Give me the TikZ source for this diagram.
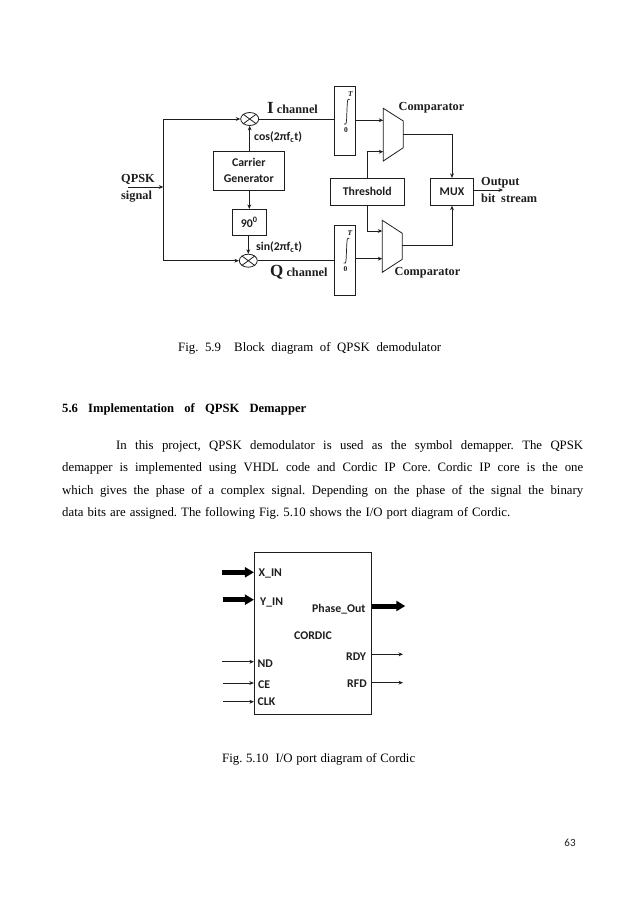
\documentclass[tikz,border=0pt]{standalone}
\usepackage{fontspec}
\setmainfont{Liberation Serif}
\newfontfamily\lblfont{Carlito}
\usetikzlibrary{arrows.meta,shapes.geometric}
\definecolor{ink}{HTML}{1E1E1E}
\frenchspacing
\tikzset{
 wire/.style={draw=ink,line width=0.8pt},
 arrowwire/.style={wire,-{Stealth[length=4.5pt,width=3.8pt]}},
 fatwire/.style={draw=black,line width=5pt,-{Stealth[length=9pt,width=10pt,inset=0pt]}},
 blockbox/.style={draw=ink,line width=0.8pt,minimum width=0pt,minimum height=0pt,inner sep=0pt,align=center,text=ink,font=\lblfont\bfseries\fontsize{11.8}{15}\selectfont},
 mixer/.style={draw=ink,line width=0.8pt,ellipse,minimum width=18pt,minimum height=13pt,inner sep=0pt},
 lbl/.style={inner sep=0pt,text=ink,font=\lblfont\bfseries\fontsize{11.8}{14}\selectfont},
 serifbold/.style={inner sep=0pt,text=ink,align=left,font=\bfseries\fontsize{12.3}{17}\selectfont},
 small/.style={inner sep=0pt,text=ink,font=\bfseries\fontsize{7}{8}\selectfont},
 bodytext/.style={inner sep=0pt,anchor=base west,text=black,font=\fontsize{12.8}{15}\selectfont},
}
\newcommand{\justline}[2]{\hbox to #1pt{#2}}
\begin{document}
\begin{tikzpicture}[x=1pt,y=-1pt]
\useasboundingbox[fill=white] (0,0) rectangle (638,903);
% --- QPSK blocks
\node[mixer] (mixI) at (249.7,119) {};
\node[mixer] (mixQ) at (248.3,260.7) {};
\draw[wire] (mixI.north west)--(mixI.south east) (mixI.north east)--(mixI.south west);
\draw[wire] (mixQ.north west)--(mixQ.south east) (mixQ.north east)--(mixQ.south west);
\node[blockbox,minimum width=71pt,minimum height=39pt] (carrier) at (248.8,170.8) {Carrier\\[1pt]Generator};
\node[blockbox,minimum width=34pt,minimum height=26pt] (shift) at (249.3,222.3) {90\textsuperscript{0}};
\node[blockbox,minimum width=21pt,minimum height=69pt] (intI) at (344.8,120.8) {};
\node[blockbox,minimum width=21pt,minimum height=70.4pt] (intQ) at (344.8,260.5) {};
\node[blockbox,minimum width=74pt,minimum height=27pt] (thresh) at (367.3,191.8) {Threshold};
\node[blockbox,minimum width=43.4pt,minimum height=27pt] (mux) at (452,191.8) {MUX};
% comparators
\coordinate (cA) at (383.3,108.3); \coordinate (cB) at (403.3,121);
\coordinate (cC) at (403.3,147.7); \coordinate (cD) at (383.3,161);
\draw[wire] (cA)--(cB)--(cC)--(cD)--cycle;
\coordinate (dA) at (382.3,220.3); \coordinate (dB) at (402.3,233.3);
\coordinate (dC) at (402.3,259.3); \coordinate (dD) at (382.3,272.3);
\draw[wire] (dA)--(dB)--(dC)--(dD)--cycle;
\coordinate (cmpIa) at (383.3,120.3); \coordinate (cmpIb) at (383.3,151.7);
\coordinate (cmpIo) at (403.3,134.3);
\coordinate (cmpQa) at (382.3,231); \coordinate (cmpQb) at (382.3,258.7);
\coordinate (cmpQo) at (402.3,245.3);
% integrals
\draw[ink,line width=0.7pt] (349.6,99.5) .. controls (347.6,98) and (347.4,101) .. (347.2,105) -- (346.6,119) .. controls (346.4,124) and (345.6,125.5) .. (344,124);
\node[small,font=\bfseries\itshape\fontsize{7.5}{8}\selectfont] (tI) at (350.5,94) {T};
\node[small,font=\bfseries\fontsize{7.5}{8}\selectfont] (zI) at (346,130) {0};
\draw[ink,line width=0.7pt] (349.2,238.5) .. controls (347.2,237) and (347,240) .. (346.8,244) -- (346.2,258) .. controls (346,263) and (345.2,264.5) .. (343.6,263);
\node[small,font=\bfseries\itshape\fontsize{7.5}{8}\selectfont] (tQ) at (350,233) {T};
\node[small,font=\bfseries\fontsize{7.5}{8}\selectfont] (zQ) at (345.6,269) {0};
% input
\coordinate (inS) at (128,187);
\coordinate (split) at (163.3,187);
\coordinate (topL) at (163.3,119);
\coordinate (botL) at (163.3,260.7);
\draw[arrowwire] (inS)--(split);
\draw[wire] (topL)--(botL);
\draw[arrowwire] (topL)--(mixI.west);
\draw[arrowwire] (botL)--(mixQ.west);
\draw[arrowwire] (carrier.north -| mixI)--(mixI.south);
\draw[arrowwire] (carrier.south -| shift)--(shift.north);
\draw[arrowwire] (shift.south -| mixQ)--(mixQ.north);
\draw[wire] (mixI.east)--(mixI.east -| intI.west);
\draw[wire] (mixQ.east)--(mixQ.east -| intQ.west);
\draw[arrowwire] (intI.east |- cmpIa)--(cmpIa);
\draw[arrowwire] (intQ.east |- cmpQb)--(cmpQb);
\coordinate (thUp) at (367.7,178.3);
\coordinate (thDn) at (367.7,205.3);
\draw[arrowwire] (thUp)--(thUp |- cmpIb)--(cmpIb);
\draw[arrowwire] (thDn)--(thDn |- cmpQa)--(cmpQa);
\draw[arrowwire] (cmpIo)-|(mux.north);
\draw[arrowwire] (cmpQo)-|(mux.south);
\coordinate (outEnd) at (503,190);
\draw[arrowwire] (mux.east |- outEnd)--(outEnd);
% labels
\node[serifbold,anchor=west] (qpsk) at (121,188.5) {QPSK\\signal};
\node[lbl,anchor=west] (cos) at (254,137.5) {cos(2πf\textsubscript{c}t)};
\node[lbl,anchor=west] (sin) at (256,247.5) {sin(2πf\textsubscript{c}t)};
\node[serifbold,anchor=base west] (ich) at (267,113) {{\fontsize{17}{17}\selectfont I} channel};
\node[serifbold,anchor=base west] (qch) at (270,276) {{\fontsize{17}{17}\selectfont Q} channel};
\node[serifbold,anchor=base west] (cmp1) at (398.5,110) {Comparator};
\node[serifbold,anchor=base west] (cmp2) at (394.5,275) {Comparator};
\node[serifbold,anchor=west] (out) at (481,189.5) {Output\\\justline{56}{bit stream}};
% captions and body
\node[bodytext] (cap1) at (178,351) {\justline{263}{Fig. 5.9\ \ Block diagram of QPSK demodulator}};
\node[bodytext,font=\bfseries\fontsize{12.6}{15}\selectfont] (sec) at (62,412) {\justline{244}{5.6 Implementation of QPSK Demapper}};
\node[bodytext] (l1) at (62,449) {\justline{521}{\hspace{54pt}In this project, QPSK demodulator is used as the symbol demapper. The QPSK}};
\node[bodytext] (l2) at (62,471) {\justline{521}{demapper is implemented using VHDL code and Cordic IP Core. Cordic IP core is the one}};
\node[bodytext] (l3) at (62,494) {\justline{521}{which gives the phase of a complex signal. Depending on the phase of the signal the binary}};
\node[bodytext] (l4) at (62,516) {\justline{448}{data bits are assigned. The following Fig. 5.10 shows the I/O port diagram of Cordic.}};
% CORDIC
\node[blockbox,minimum width=117pt,minimum height=161.3pt] (cordic) at (312.8,633.3) {};
\coordinate (xs) at (222,572.3); \coordinate (ys) at (222.7,599.7);
\coordinate (ps) at (405.3,606);
\coordinate (nd) at (222.3,661.7); \coordinate (ce) at (223,683); \coordinate (ck) at (223,701.7);
\coordinate (rd) at (403,654.3); \coordinate (rf) at (403,682.7);
\draw[fatwire] (xs)--(xs -| cordic.west);
\draw[fatwire] (ys)--(ys -| cordic.west);
\draw[fatwire] (ps -| cordic.east)--(ps);
\draw[arrowwire] (nd)--(nd -| cordic.west);
\draw[arrowwire] (ce)--(ce -| cordic.west);
\draw[arrowwire] (ck)--(ck -| cordic.west);
\draw[arrowwire] (rd -| cordic.east)--(rd);
\draw[arrowwire] (rf -| cordic.east)--(rf);
\node[lbl,anchor=west] (xin) at (258.5,573.5) {X\_IN};
\node[lbl,anchor=west] (yin) at (260,602.5) {Y\_IN};
\node[lbl,anchor=west] (phase) at (312,609.5) {Phase\_Out};
\node[lbl,anchor=west] (cname) at (294,635.5) {CORDIC};
\node[lbl,anchor=west] (ndl) at (257.5,663.5) {ND};
\node[lbl,anchor=west] (cel) at (258,684.5) {CE};
\node[lbl,anchor=west] (ckl) at (257.5,701.5) {CLK};
\node[lbl,anchor=west] (rdy) at (346,656.5) {RDY};
\node[lbl,anchor=west] (rfd) at (347,683.5) {RFD};
\node[bodytext] (cap2) at (222,762) {\justline{193}{Fig. 5.10\ \ I/O port diagram of Cordic}};
\node[inner sep=0pt,text=ink,font=\lblfont\fontsize{11}{13}\selectfont] (page) at (570,843) {63};
\end{tikzpicture}
\end{document}
